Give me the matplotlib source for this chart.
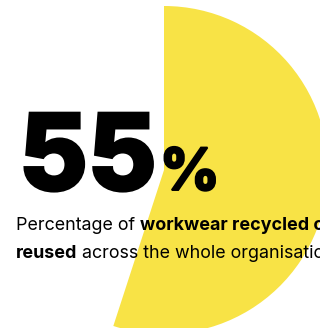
import matplotlib
matplotlib.use("Agg")
import matplotlib.pyplot as plt
import matplotlib.patheffects as pe

# Share of workwear recycled or reused
share = [55, 45]
big_number = "55"
unit = "%"
line1 = [("Percentage of ", "normal"), ("workwear recycled or", "bold")]
line2 = [("reused", "bold"), (" across the whole organisation", "normal")]

W, H = 320, 328
YELLOW = "#F8E346"

fig = plt.figure(figsize=(W / 100, H / 100), dpi=100)
ax = fig.add_axes([0, 0, 1, 1])

ax.pie(share, colors=[YELLOW, "none"], startangle=90, counterclock=False,
       center=(164, H - 170), radius=164, frame=True,
       wedgeprops=dict(linewidth=0))
ax.set_xlim(0, W)
ax.set_ylim(0, H)
ax.set_aspect("auto")
ax.axis("off")

renderer = fig.canvas.get_renderer()
FONT = "Inter"
heavy = [pe.withStroke(linewidth=2.2, foreground="black", joinstyle="miter")]


def text_width(s, size, weight):
    t = ax.text(0, 0, s, fontsize=size, fontweight=weight, family=FONT)
    w = t.get_window_extent(renderer).width
    t.remove()
    return w


def draw_runs(runs, x, y_px, size):
    for s, weight in runs:
        sp = text_width("a a", size, weight) - text_width("aa", size, weight)
        x += (len(s) - len(s.lstrip(" "))) * sp
        t = ax.text(x, H - y_px, s.strip(" "), fontsize=size,
                    fontweight=weight, family=FONT, va="baseline",
                    ha="left", color="black", zorder=5)
        x += t.get_window_extent(renderer).width
        x += (len(s) - len(s.rstrip(" "))) * sp


# Headline figure
t55 = ax.text(19, H - 190, big_number, fontsize=76, fontweight="heavy",
              family=FONT, va="baseline", ha="left", color="black",
              zorder=5, path_effects=heavy)
x_end = t55.get_window_extent(renderer).x1
ax.text(x_end + 3, H - 190, unit, fontsize=42, fontweight="heavy",
        family=FONT, va="baseline", ha="left", color="black", zorder=5,
        path_effects=[pe.withStroke(linewidth=1.4, foreground="black",
                                    joinstyle="miter")])

draw_runs(line1, 16, 230, 12.9)
draw_runs(line2, 16, 258, 12.9)

fig.savefig("out.png", dpi=100)
